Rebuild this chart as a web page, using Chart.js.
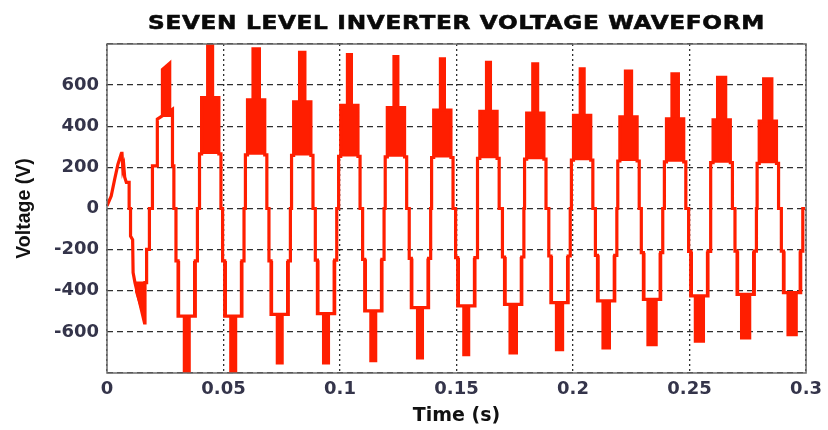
<!DOCTYPE html>
<html>
<head>
<meta charset="utf-8">
<script src="https://cdn.jsdelivr.net/npm/chart.js@4.4.1/dist/chart.umd.min.js"></script>
<style>
html,body{margin:0;padding:0;background:#fff;}
#wrap{width:828px;height:430px;position:relative;}
</style>
</head>
<body>
<div id="wrap"><canvas id="c" width="828" height="430"></canvas></div>
<script>
// ---------- data ----------
const chartTitle = 'SEVEN LEVEL INVERTER VOLTAGE WAVEFORM';
const xTitle = 'Time (s)';
const yTitle = 'Voltage (V)';
const xTickLabels = ['0', '0.05', '0.1', '0.15', '0.2', '0.25', '0.3'];
const yTickLabels = ['-600', '-400', '-200', '0', '200', '400', '600'];

// start-up transient (outline vertices)
const transientT = [0, 0.0018, 0.0033, 0.0047, 0.0061, 0.0064, 0.0068, 0.0072, 0.0076, 0.0083,
  0.0095, 0.0095, 0.0101, 0.0101, 0.0110, 0.0112, 0.0120, 0.0161, 0.0163, 0.0170,
  0.0170, 0.0182, 0.0182, 0.0195, 0.0195, 0.0216, 0.0216, 0.0281, 0.0281, 0.0287, 0.0287];
const transientV = [12, 60, 141, 213, 262, 272, 189, 205, 150, 125,
  125, 0, 0, -132, -150, -308, -356, -549, -356, -356,
  -196, -196, 0, 0, 205, 205, 429, 477, 205, 205, 0];
// transient switching regions: [tStart, tEnd, edgeStart, edgeEnd, baseLevel]
const transientChatterNeg = [0.0120, 0.0161, -400, -549, -350];
const transientChatterPos = [0.0230, 0.0277, 670, 715, 440];

// positive half cycles
const posCenter = [0.0443, 0.0640, 0.0838, 0.1040, 0.1240, 0.1439, 0.1637, 0.1838, 0.2039, 0.2238, 0.2438, 0.2638, 0.2836];
const posL1 = [262, 258, 255, 250, 248, 245, 241, 237, 232, 228, 224, 220, 217];
const posL2 = [532, 522, 512, 495, 485, 472, 466, 458, 447, 440, 430, 426, 420];
const posPeak = [800, 774, 758, 747, 737, 726, 710, 702, 678, 667, 654, 638, 630];
const posSpikeHalf = [0.0018, 0.0021, 0.0019, 0.0016, 0.0016, 0.0016, 0.0016, 0.0018, 0.0016, 0.0021, 0.0021, 0.0025, 0.0025];

// negative half cycles
const negCenter = [0.0342, 0.0542, 0.0741, 0.0940, 0.1143, 0.1343, 0.1542, 0.1743, 0.1942, 0.2142, 0.2339, 0.2542, 0.2741, 0.2940];
const negL1 = [-252, -252, -252, -248, -244, -240, -236, -233, -228, -225, -212, -206, -205, -205];
const negL2 = [-517, -517, -508, -505, -492, -476, -468, -460, -452, -444, -436, -420, -412, -404];
const negPeak = [-800, -800, -749, -749, -738, -725, -709, -701, -685, -677, -661, -645, -629, -613];
const negSpikeHalf = [0.0018, 0.0018, 0.0018, 0.0018, 0.0018, 0.0018, 0.0018, 0.0021, 0.0021, 0.0021, 0.0025, 0.0025, 0.0025, 0.0025];

// step timing within each half cycle (s, from half-cycle centre)
const BOX = 0.0046, BAND = 0.0037, EDGE = 0.001;
const endTime = 0.2996;

// ---------- build datasets ----------
const RED = '#ff1e00';
const outline = [];
for (let i = 0; i < transientT.length; i++) outline.push({x: transientT[i], y: transientV[i]});

const halves = [];
negCenter.forEach((c, i) => halves.push({c, l1: negL1[i], l2: negL2[i], pk: negPeak[i], hs: negSpikeHalf[i], neg: true}));
posCenter.forEach((c, i) => halves.push({c, l1: posL1[i], l2: posL2[i], pk: posPeak[i], hs: posSpikeHalf[i], neg: false}));
halves.sort((a, b) => a.c - b.c);

const fills = [];
function rect(t0, t1, top0, top1, base) {
  fills.push({
    data: [{x: t0, y: top0}, {x: t1, y: top1}],
    fill: {value: base},
    backgroundColor: RED,
    borderWidth: 0,
    pointRadius: 0,
    tension: 0,
    order: 2
  });
}

halves.forEach(h => {
  const c = h.c;
  outline.push({x: c - BOX, y: 0}, {x: c - BOX, y: h.l1},
               {x: c - BAND, y: h.l1}, {x: c - BAND, y: h.l2},
               {x: c + BAND, y: h.l2}, {x: c + BAND, y: h.l1},
               {x: c + BOX, y: h.l1}, {x: c + BOX, y: 0});
  if (!h.neg) {
    rect(c - BAND, c + BAND, h.l2, h.l2, h.l1);
  } else {
    rect(c - BAND, c - BAND + EDGE, h.l2, h.l2, h.l1);
    rect(c + BAND - EDGE, c + BAND, h.l2, h.l2, h.l1);
  }
  rect(c - h.hs, c + h.hs, h.pk, h.pk, h.l2);
});
outline.push({x: endTime, y: 0});

rect(transientChatterNeg[0], transientChatterNeg[1], transientChatterNeg[2], transientChatterNeg[3], transientChatterNeg[4]);
rect(transientChatterPos[0], transientChatterPos[1], transientChatterPos[2], transientChatterPos[3], transientChatterPos[4]);

const datasets = [{
  data: outline,
  borderColor: RED,
  borderWidth: 3.2,
  pointRadius: 0,
  tension: 0,
  fill: false,
  borderJoinStyle: 'miter',
  order: 1
}].concat(fills);

// ---------- plugins ----------
const framePlugin = {
  id: 'frame',
  afterDatasetsDraw(chart) {
    const a = chart.chartArea, ctx = chart.ctx;
    ctx.save();
    ctx.strokeStyle = '#6a6a6a';
    ctx.lineWidth = 1.5;
    ctx.strokeRect(a.left, a.top, a.right - a.left, a.bottom - a.top);
    ctx.restore();
  }
};
const titlePlugin = {
  id: 'stretchedTitle',
  afterDraw(chart) {
    const a = chart.chartArea, ctx = chart.ctx;
    ctx.save();
    ctx.font = 'bold 20px "DejaVu Sans", sans-serif';
    try { ctx.letterSpacing = '0.6px'; } catch (e) {}
    const w = ctx.measureText(chartTitle).width;
    const sx = 617 / w;
    ctx.translate((a.left + a.right) / 2, 28.5);
    ctx.scale(sx, 1);
    ctx.textAlign = 'center';
    ctx.textBaseline = 'alphabetic';
    ctx.fillStyle = '#0a0a0a';
    ctx.strokeStyle = '#0a0a0a';
    ctx.lineWidth = 0.6;
    ctx.fillText(chartTitle, 0, 0);
    ctx.strokeText(chartTitle, 0, 0);
    ctx.restore();
  }
};

// ---------- chart ----------
const tickColor = '#34344a';
new Chart(document.getElementById('c'), {
  type: 'line',
  data: {datasets},
  options: {
    responsive: false,
    animation: false,
    events: [],
    layout: {padding: {top: 44, right: 17, bottom: 0, left: 0}},
    plugins: {legend: {display: false}, tooltip: {enabled: false}, title: {display: false}},
    scales: {
      x: {
        type: 'linear',
        min: 0, max: 0.3,
        afterFit(s) { s.height = 57; },
        ticks: {
          stepSize: 0.05,
          padding: 6,
          color: tickColor,
          font: {family: '"DejaVu Sans"', size: 18, weight: 'bold'},
          maxRotation: 0,
          callback: (v) => {
            const i = Math.round(v / 0.05);
            return xTickLabels[i] !== undefined ? xTickLabels[i] : '';
          }
        },
        grid: {color: 'rgba(25,25,25,0.9)', lineWidth: 1.3, drawTicks: false, borderDash: [2, 3]},
        border: {display: false, dash: [2, 3]},
        title: {display: true, text: xTitle, color: '#111', font: {family: '"DejaVu Sans"', size: 19, weight: 'bold'}, padding: {top: 0, bottom: 3}}
      },
      y: {
        min: -790, max: 790,
        afterFit(s) { s.width = 107; },
        ticks: {
          stepSize: 200,
          includeBounds: false,
          padding: 8,
          color: tickColor,
          font: {family: '"DejaVu Sans"', size: 18, weight: 'bold'},
          callback: (v) => {
            const i = Math.round((v + 600) / 200);
            return yTickLabels[i] !== undefined ? yTickLabels[i] : '';
          }
        },
        grid: {color: 'rgba(25,25,25,0.9)', lineWidth: 1.3, drawTicks: false, borderDash: [6, 4]},
        border: {display: false, dash: [6, 4]},
        title: {display: true, text: yTitle, color: '#111', font: {family: '"Liberation Sans"', size: 19.5, weight: 'bold'}, padding: {top: 13, bottom: 0}}
      }
    }
  },
  plugins: [framePlugin, titlePlugin]
});
</script>
</body>
</html>
